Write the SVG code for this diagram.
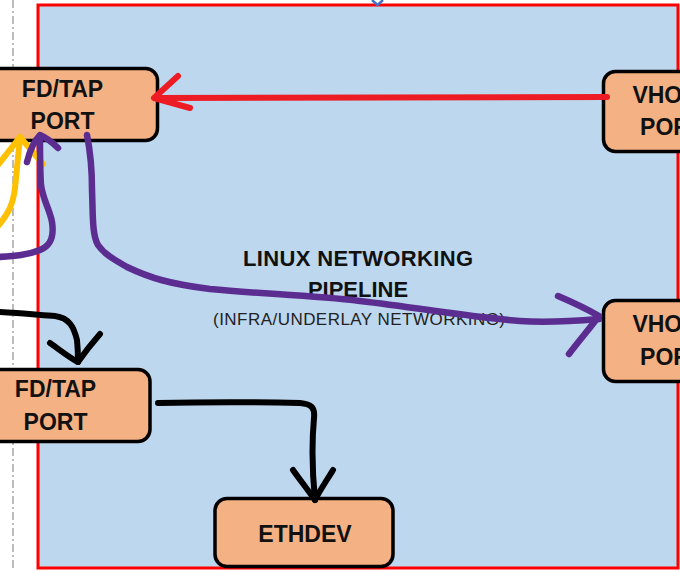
<svg xmlns="http://www.w3.org/2000/svg" width="680" height="571" viewBox="0 0 680 571">
<style>
.node rect{fill:#F4B183;stroke:#000;stroke-width:3.5}
.lbl{font-family:"Liberation Sans",Arial,sans-serif;font-weight:bold;font-size:23px;fill:#111;text-anchor:middle}
.title{font-family:"Liberation Sans",Arial,sans-serif;font-weight:bold;font-size:22px;fill:#111;text-anchor:middle}
.sub{font-family:"Liberation Sans",Arial,sans-serif;font-size:17px;fill:#222;text-anchor:middle}
.c{fill:none;stroke-linecap:round;stroke-linejoin:round}
.red{stroke:#ED1C24;stroke-width:6}
.yel{stroke:#FFC000;stroke-width:6}
.pur{stroke:#5C2D91;stroke-width:6.5}
.blk{stroke:#000;stroke-width:6}
</style>
<rect x="0" y="0" width="680" height="571" fill="#fff"/>
<line x1="13" y1="0" x2="13" y2="571" stroke="#A6A6A6" stroke-width="1.5" stroke-dasharray="8 3 2 3"/>
<rect id="pipeline" x="38" y="5" width="640" height="563" fill="#BDD7EE" stroke="#FF0000" stroke-width="3"/>
<path d="M372,0 L377.5,5 L383,0" fill="none" stroke="#4472C4" stroke-width="2.5"/>
<g id="fdtap_top" class="node">
<rect x="-20" y="68.5" width="177.5" height="72" rx="12"/>
<text class="lbl" x="62.5" y="97">FD/TAP</text>
<text class="lbl" x="62.5" y="129">PORT</text>
</g>
<g id="vhost_top" class="node">
<rect x="603.5" y="71.5" width="120" height="80" rx="12"/>
<text class="lbl" x="672" y="103">VHOST</text>
<text class="lbl" x="672" y="135">PORT</text>
</g>
<g id="vhost_mid" class="node">
<rect x="603.5" y="300.5" width="120" height="81" rx="12"/>
<text class="lbl" x="672" y="332">VHOST</text>
<text class="lbl" x="672" y="365">PORT</text>
</g>
<g id="fdtap_bottom" class="node">
<rect x="-20" y="369.5" width="170" height="72" rx="12"/>
<text class="lbl" x="55.5" y="397">FD/TAP</text>
<text class="lbl" x="55.5" y="430">PORT</text>
</g>
<g id="ethdev" class="node">
<rect x="215" y="498.5" width="178" height="68" rx="12"/>
<text class="lbl" x="305" y="542">ETHDEV</text>
</g>
<g id="title">
<text class="title" x="358" y="266" textLength="230">LINUX NETWORKING</text>
<text class="title" x="358" y="297">PIPELINE</text>
<text class="sub" x="359" y="325" textLength="292">(INFRA/UNDERLAY NETWORKING)</text>
</g>
<g id="connectors">
<path class="c red" d="M607,97 L155,98"/>
<path class="c red" d="M178,76 L154,98 L190,108"/>
<path class="c yel" d="M-2,226 C8,214 13,205 15,188 C17,170 18,155 20,139"/>
<path class="c yel" d="M-2,165 L20,137 L43,164"/>
<path class="c pur" d="M-2,257 C15,256 28,255 40,250 C52,245 54,235 52,222 C50,210 43,200 41,185 C40,170 40,155 40,138"/>
<path class="c pur" d="M27,162 C30,150 35,140 40,135 C47,138 53,143 58,148"/>
<path class="c pur" d="M87,135 C90,150 92,170 92,190 C93,215 92,235 98,245 C105,255 115,260 127,267 C150,278 170,284 210,289 C260,294 310,295 360,301 C420,308 470,317 520,321 C550,323 575,321 599,319"/>
<path class="c pur" d="M558,296 C572,302 587,309 599,316 C590,328 578,342 569,354"/>
<path class="c blk" d="M-2,312 C20,313 40,315 55,316 C70,318 74,328 77,340 C78,350 78,356 78,362"/>
<path class="c blk" d="M50,343 C60,350 70,358 78,362 C85,352 93,342 100,334"/>
<path class="c blk" d="M158,403 C200,402 260,402 300,403 C312,404 315,408 314,418 C312,440 312,470 315,500"/>
<path class="c blk" d="M293,470 C300,480 308,490 315,500 C320,490 327,480 333,470"/>
</g>
</svg>
